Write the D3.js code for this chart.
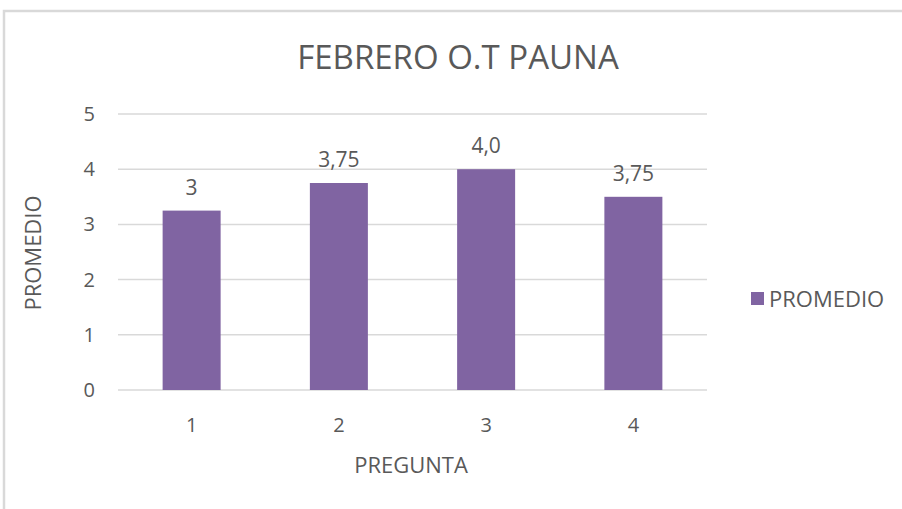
<!DOCTYPE html>
<html>
<head>
<meta charset="utf-8">
<script src="https://cdn.jsdelivr.net/npm/d3@7"></script>
<style>
body { margin: 0; background: #fff; }
text { font-family: "Open Sans", "Liberation Sans", sans-serif; fill: #595959; }
</style>
</head>
<body>
<svg width="902" height="509"></svg>
<script>
var categories = ["1", "2", "3", "4"];
var values = [3.25, 3.75, 4.0, 3.5];
var valueLabels = ["3", "3,75", "4,0", "3,75"];
var yTicks = [0, 1, 2, 3, 4, 5];
var seriesName = "PROMEDIO";

var svg = d3.select("svg");

// chart frame
svg.append("rect")
	.attr("x", 4).attr("y", 11)
	.attr("width", 920).attr("height", 520)
	.attr("fill", "#fff")
	.attr("stroke", "#d9d9d9")
	.attr("stroke-width", 2.5);

var x = d3.scaleBand()
	.domain(categories)
	.range([118, 707]);

var y = d3.scaleLinear()
	.domain([0, 5])
	.range([390, 114]);

var barW = 58;

// gridlines
svg.selectAll(".grid")
	.data(yTicks)
	.enter().append("line")
	.attr("x1", 118).attr("x2", 707)
	.attr("y1", function(d){ return y(d); })
	.attr("y2", function(d){ return y(d); })
	.attr("stroke", "#d9d9d9")
	.attr("stroke-width", 1.5);

// y tick labels
svg.selectAll(".ytick")
	.data(yTicks)
	.enter().append("text")
	.attr("x", 95)
	.attr("y", function(d){ return y(d); })
	.attr("dy", "0.35em")
	.attr("text-anchor", "end")
	.style("font-size", "20px")
	.text(function(d){ return d; });

// bars
svg.selectAll(".bar")
	.data(values)
	.enter().append("rect")
	.attr("x", function(d, i){ return x(categories[i]) + x.bandwidth() / 2 - barW / 2; })
	.attr("y", function(d){ return y(d); })
	.attr("width", barW)
	.attr("height", function(d){ return y(0) - y(d); })
	.attr("fill", "#8064a2");

// value labels
svg.selectAll(".vlabel")
	.data(values)
	.enter().append("text")
	.attr("x", function(d, i){ return x(categories[i]) + x.bandwidth() / 2; })
	.attr("y", function(d){ return y(d) - 16; })
	.attr("text-anchor", "middle")
	.style("font-size", "21px")
	.text(function(d, i){ return valueLabels[i]; });

// x tick labels
svg.selectAll(".xtick")
	.data(categories)
	.enter().append("text")
	.attr("x", function(d){ return x(d) + x.bandwidth() / 2; })
	.attr("y", 432)
	.attr("text-anchor", "middle")
	.style("font-size", "20px")
	.text(function(d){ return d; });

// title
svg.append("text")
	.attr("x", 458).attr("y", 69)
	.attr("text-anchor", "middle")
	.style("font-size", "33px")
	.text("FEBRERO O.T PAUNA");

// axis titles
svg.append("text")
	.attr("x", 411).attr("y", 473)
	.attr("text-anchor", "middle")
	.style("font-size", "22px")
	.text("PREGUNTA");

svg.append("text")
	.attr("transform", "translate(41,253) rotate(-90)")
	.attr("text-anchor", "middle")
	.style("font-size", "22px")
	.text("PROMEDIO");

// legend
svg.append("rect")
	.attr("x", 751).attr("y", 292)
	.attr("width", 13).attr("height", 13)
	.attr("fill", "#8064a2");

svg.append("text")
	.attr("x", 769).attr("y", 299)
	.attr("dy", "0.35em")
	.style("font-size", "22px")
	.text(seriesName);
</script>
</body>
</html>
